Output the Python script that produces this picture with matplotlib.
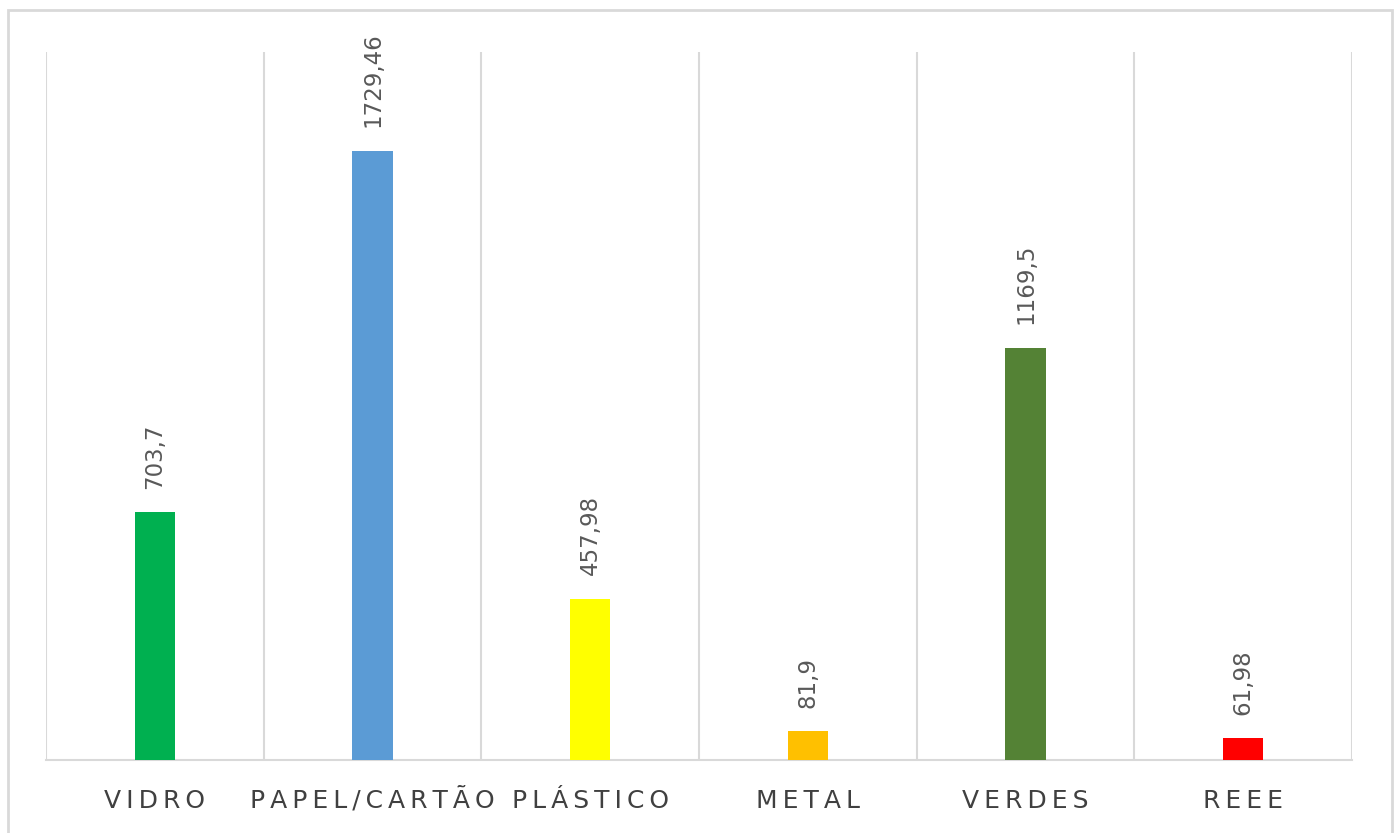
import matplotlib
matplotlib.use("Agg")
import matplotlib.pyplot as plt
from matplotlib.patches import Rectangle

categories = ["VIDRO", "PAPEL/CARTÃO", "PLÁSTICO", "METAL", "VERDES", "REEE"]
values = [703.7, 1729.46, 457.98, 81.9, 1169.5, 61.98]
value_labels = ["703,7", "1729,46", "457,98", "81,9", "1169,5", "61,98"]
colors = ["#00B050", "#5B9BD5", "#FFFF00", "#FFC000", "#548235", "#FF0000"]

W, H = 1400, 833
fig = plt.figure(figsize=(W / 100, H / 100), dpi=100)
ax = fig.add_axes([46 / W, 1 - 760 / H, (1352 - 46) / W, (760 - 52) / H])

x = list(range(len(categories)))
ax.bar(x, values, width=0.185, color=colors, zorder=3)

for xi, v, lab in zip(x, values, value_labels):
    ax.annotate(lab, (xi, v), xytext=(0, 17), textcoords="offset points",
                rotation=90, ha="center", va="bottom", fontsize=16.5, color="#595959")

ax.set_xlim(-0.5, len(categories) - 0.5)
ax.set_ylim(0, 2010)
ax.set_yticks([])

# vertical separators between categories
ax.set_xticks([i - 0.5 for i in range(len(categories) + 1)], minor=True)
ax.grid(True, which="minor", axis="x", color="#D9D9D9", linewidth=1.5, zorder=0)
ax.tick_params(axis="x", which="both", length=0)

# spaced-out tick labels, all on one baseline
spaced = ["\u2009".join(c) for c in categories]
ax.set_xticks(x)
ax.set_xticklabels(spaced, fontsize=18, color="#404040", va="baseline")
ax.tick_params(axis="x", pad=34.5)

for s in ["top", "left", "right"]:
    ax.spines[s].set_visible(False)
ax.spines["bottom"].set_color("#D9D9D9")
ax.spines["bottom"].set_linewidth(1.5)

# chart area border
fig.patches.append(Rectangle((8 / W, -0.01), (1392 - 8) / W, 1 - 10 / H + 0.01,
                             transform=fig.transFigure, fill=False,
                             edgecolor="#D9D9D9", linewidth=2))

fig.savefig("out.png", dpi=100)
